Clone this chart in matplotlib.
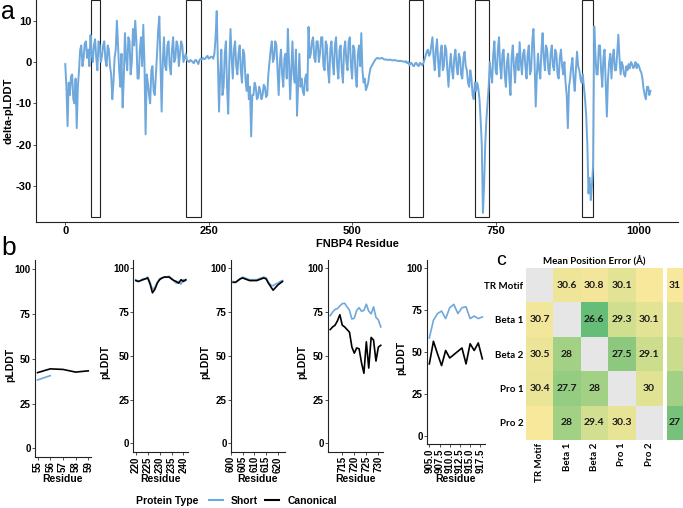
import numpy as np
import matplotlib
matplotlib.use("Agg")
import matplotlib.pyplot as plt
from matplotlib.patches import Rectangle
from matplotlib.lines import Line2D
from matplotlib.colors import LinearSegmentedColormap

plt.rcParams['font.family'] = ['Liberation Sans', 'DejaVu Sans']
plt.rcParams['font.weight'] = 'bold'
plt.rcParams['axes.unicode_minus'] = False

BLUE = '#6fa8dc'

# ---- panel a: delta-pLDDT along FNBP4 (read every 2 residues) ----
delta_res = np.arange(0, 1021, 2)
delta_plddt = [
    -0.5, -6, -15.5, -5, -8, -3.5, -3, -9, -10, -4, -16, -6, -2, 3, 4, -1, 1, 4.5, 5, 1,        # 0-38
    3, -1, 6.5, 2, 0, 4, 5.5, 1, -2, 5, 4, 0, 1.5, 4, 5, 0.5, -1, 4, 3, -1,                      # 40-78
    -3, -9, -5, 1, 3, 10, 4, -2, -6, 2, -11, -4, 7, 1, -2, 6, 5, -3, 0, 8,                       # 80-118
    4, 10, 5, -4, -4, 3, 6, -1, 9, 0, -17.5, -3, -5, -8, -10, -2, -1, -7, -8, -3,                # 120-158
    2, 8, 11, 0, -12, 0, 6, -1, -2, 4, 5, -1, -3, 3, 6, 0, 1, 5, 4, -1,                          # 160-198
    2, 5, 4, 0, 1, 2, 0.5, 0.2, 0, 0.5, 0.3, 0, -0.3, 0.4, 0.5, 0, -0.5, 0.5, 0.8, 0.6,          # 200-238
    1, 0.7, 0.8, 1.2, 1.5, 0.8, 1, 1.3, 1.2, 0.8, 2, 6, 12.3, 0, -12, -3, 3, -8, -6, 2,          # 240-278
    5, -6, -12.5, 0, 8, 1, -4, 3, 5, -1, -3, 2, 4, -2, -5, 3, 2, -4, -7, -3,                     # 280-318
    -9, -6, -18, -8, -8, -5, -6, -9, -8.5, -6, -7, -9, -8, -5.5, -6, -8.5, -8, -3, 0, 3,         # 320-358
    5, 0, 1, 5, 4, -2, -8, 0, 3, -3, -6, 1, 2, -4, 8, 0, -9, -2, 5, -3,                          # 360-398
    -5, 3, -13, -5, 2, -6, -4, -7, -8, -4, -3, -7, 8.5, 1, 2, 5, 6, 1, 0, 5,                     # 400-438
    5, 0, 2, 6, 6, -1, -2, 5, 4, -2, -5, 3, 5, 0, -3, 4, 6, -1, -4, 3,                           # 440-478
    4, -2, -5, 3, 5, 0, -2, 5, 6, -1, -4, 4, 3, -3, -6, 2, 4, -1, 7, -2,                         # 480-518
    -5, -4, -6.8, -6, -5, -3, -1.5, -1, -0.5, 0, 0.5, 0.8, 1, 0.9, 0.8, 0.9, 1, 0.8, 0.6, 0.6,   # 520-558
    0.6, 0.5, 0.5, 0.6, 0.5, 0.4, 0.4, 0.5, 0.4, 0.3, 0.3, 0.2, 0.3, 0.2, 0.2, 0.1, 0, 0.2, -0.3, 0,  # 560-598
    -0.8, -0.2, -0.3, -0.9, -1, -0.3, -0.2, -0.8, -1, -0.2, -0.4, -0.8, -0.3, 0.5, 1.5, 2.5, 3, 1.5, 2, 4,  # 600-638
    6, 1, -2, 3, 5.5, 0, -3.5, 2, 4, -2, -1, 4, 3, -2, -6, -1, 2, -2, -4, 1,                     # 640-678
    3, -1, -3, 2, 1, -3, -4, 1, 2.5, -1, -2, -5, -6, -2, -4, -8, -9, -5, -7, -5,                 # 680-718
    -6.5, -9, -14, -20, -36.5, -30, -20, -14, -10, -6, 0, -3, -5, 2, 5, -2, -3, 3, 6, -1,        # 720-758
    -4, 2, 3, -3, -6, 0, 2, -4, -8, 1, 4, -1, -5, 1, 2, -2, 4.8, 0, -3, 2,                       # 760-798
    3, -1, -4, 2, 4, -3, -2, 5, 8, 0, -10.8, -3, 2, -2, -4, 3, 7, 1, -2, 4,                      # 800-838
    3, -2, -3, 2, 4, -1, -2, 3, 2, -3, -4, 1, 3, -1, -3, 0, -5, -8, -16, -6,                     # 840-878
    -4, -1, 1, -4, -7, -2, 2.5, -1, -2, -4, -5, -3, -6, -9, -13, -20, -31.8, -28, -33.4, -30,    # 880-918
    -25, 8.6, 2, -3, -3, 4, 4, -2, -6, 1, 3, -5, -13.2, -4, 0, 2, -4, 1, 3, -2,                  # 920-958
    -2, 2, 6.6, 1, -3, 0, -1, -3, -3.5, -1, -2, -0.5, -1.5, 0, -0.5, -1.5, -1, 0, -1.5, -0.5,    # 960-998
    -1, -2, -2.5, -4, -6.5, -8, -9, -6, -6, -8, -7,                                              # 1000-1020
]
box_start = [44, 211, 599, 714, 901]
box_end = [61, 236, 623, 738, 919]
box_low, box_high = -37.5, 15.0

# ---- panel b: pLDDT in zoomed windows ----
b_res_short = [[55, 56], list(range(220, 242)), list(range(601, 623)),
               list(range(710, 732)), list(range(905, 919))]
b_res_canon = [[55, 56, 57, 58, 59], list(range(220, 242)), list(range(601, 623)),
               list(range(710, 732)), list(range(905, 919))]
b_short = [
    [38.2, 40.6],
    [93.5, 92.5, 93, 94, 94, 95, 92, 88, 89, 92, 94, 94.5, 95, 95, 95.5, 94, 93,
     91.5, 92.5, 91, 93.5, 93],
    [92.5, 92, 93, 94, 95, 94.5, 94, 93.5, 93.5, 93.5, 93.5, 94, 94.5, 95, 94.5,
     92, 90.5, 90, 91, 91.5, 92.5, 93],
    [73, 75, 76.5, 77, 78.5, 79.8, 80, 78, 76, 71, 71.5, 76, 77.5, 75.5, 76, 79.5,
     75.5, 74, 78, 72, 70.5, 66.5],
    [58.5, 69, 73, 74.5, 70, 76.5, 78.5, 73, 76.5, 77, 70, 71.5, 70, 71],
]
b_canon = [
    [42.3, 44.4, 44.1, 42.6, 43.3],
    [93, 92.5, 93, 93.5, 94, 94.5, 91, 86, 88, 91.5, 93.5, 94.5, 95, 95, 95, 94, 93,
     92.5, 91.5, 93.5, 92.5, 93.5],
    [92, 92, 93, 94, 94.5, 94, 93.5, 93, 93, 93, 93, 93.5, 94, 94.5, 94, 91.5, 89.5,
     87.5, 89, 90.5, 91.5, 92.5],
    [65, 66.5, 67.5, 70, 73.5, 67.5, 66.5, 65, 63.5, 55, 51.5, 54.5, 54, 46, 40, 58,
     43, 60.5, 59, 47, 55, 56],
    [43, 56.5, 49, 42, 51, 46.5, 48.5, 50.5, 52.5, 43, 55, 51, 55.5, 46],
]
b_xticks = [[55, 56, 57, 58, 59], [220, 225, 230, 235, 240], [600, 605, 610, 615, 620],
            [715, 720, 725, 730], [905, 907.5, 910, 912.5, 915, 917.5]]
b_xticklabels = [['55', '56', '57', '58', '59'], ['220', '225', '230', '235', '240'],
                 ['600', '605', '610', '615', '620'], ['715', '720', '725', '730'],
                 ['905.0', '907.5', '910.0', '912.5', '915.0', '917.5']]
b_yticks = [0, 25, 50, 75, 100]

# ---- panel c: mean position error heatmap ----
c_labels = ['TR Motif', 'Beta 1', 'Beta 2', 'Pro 1', 'Pro 2']
c_values = [
    [np.nan, 30.6, 30.8, 30.1, 31.0],
    [30.7, np.nan, 26.6, 29.3, 30.1],
    [30.5, 28.0, np.nan, 27.5, 29.1],
    [30.4, 27.7, 28.0, np.nan, 30.0],
    [31.0, 28.0, 29.4, 30.3, np.nan],
]
c_text = [
    ['', '30.6', '30.8', '30.1', ''],
    ['30.7', '', '26.6', '29.3', '30.1'],
    ['30.5', '28', '', '27.5', '29.1'],
    ['30.4', '27.7', '28', '', '30'],
    ['', '28', '29.4', '30.3', ''],
]
extra_values = [31.0, 29.9, 29.0, 28.0, 27.0]
extra_text = ['31', '', '', '', '27']

W, H = 683, 508
fig = plt.figure(figsize=(W / 100, H / 100), dpi=100)


def add_ax(l, t, r, b):
    return fig.add_axes([l / W, 1 - b / H, (r - l) / W, (b - t) / H])


def classic(ax, size):
    ax.spines['top'].set_visible(False)
    ax.spines['right'].set_visible(False)
    for s in ['left', 'bottom']:
        ax.spines[s].set_linewidth(0.8)
        ax.spines[s].set_color('#222222')
    ax.tick_params(length=2, width=0.6, color='#333333', labelsize=size, pad=1)
    for lab in ax.get_xticklabels() + ax.get_yticklabels():
        lab.set_fontweight('bold')


# panel a
ax = add_ax(36, 0, 678, 222)
ax.plot(delta_res, delta_plddt, color=BLUE, lw=1.4, solid_joinstyle='round')
for s, e in zip(box_start, box_end):
    ax.add_patch(Rectangle((s, box_low), e - s, box_high - box_low, fill=False,
                           ec='#222222', lw=0.8, clip_on=False))
ax.set_xlim(-51, 1068)
ax.set_ylim(-38.7, 15.0)
ax.set_xticks([0, 250, 500, 750, 1000])
ax.set_yticks([10, 0, -10, -20, -30])
classic(ax, 8)
ax.set_xlabel('FNBP4 Residue', fontsize=8, fontweight='bold')
ax.set_ylabel('delta-pLDDT', fontsize=8, fontweight='bold')
ax.xaxis.set_label_coords(0.5, -(244 - 222) / 222)
ax.xaxis.label.set_va('center')
ax.yaxis.set_label_coords(-(36 - 9) / 642, 0.5)
ax.yaxis.label.set_va('center')

# panel b
b_boxes = [(35, 260.4, 90.8, 457.3), (133.3, 259.6, 188.3, 452.0),
           (230.7, 259.6, 285.0, 452.0), (327.7, 259.6, 383.3, 452.0),
           (426.7, 259.9, 485.0, 444.4)]
b_xlims = [(54.8, 59.2), (218.95, 242.05), (599.95, 623.05), (708.95, 732.05),
           (904.35, 918.65)]
b_ylabel_x = [10, 105, 205, 302, 401]
for i, (l, t, r, b) in enumerate(b_boxes):
    axb = add_ax(l, t, r, b)
    axb.plot(b_res_short[i], b_short[i], color=BLUE, lw=1.2)
    axb.plot(b_res_canon[i], b_canon[i], color='black', lw=1.2)
    axb.set_xlim(*b_xlims[i])
    axb.set_ylim(-5, 105)
    axb.set_yticks(b_yticks)
    axb.set_xticks(b_xticks[i])
    axb.set_xticklabels(b_xticklabels[i], rotation=90)
    classic(axb, 7)
    axb.set_xlabel('Residue', fontsize=7.5, fontweight='bold')
    axb.set_ylabel('pLDDT', fontsize=7.5, fontweight='bold')
    axb.xaxis.set_label_coords(0.5, -(479 - b) / (b - t))
    axb.xaxis.label.set_va('center')
    axb.yaxis.set_label_coords(-(l - b_ylabel_x[i]) / (r - l), 0.47)
    axb.yaxis.label.set_va('center')

fig.text(136 / W, 1 - 501 / H, 'Protein Type', fontsize=7.5, va='center', ha='left',
         fontweight='bold')
handles = [Line2D([], [], color=BLUE, lw=1.5), Line2D([], [], color='black', lw=1.5)]
fig.legend(handles, ['Short', 'Canonical'], loc='center left',
           bbox_to_anchor=(209 / W, 1 - 501 / H), ncol=2, frameon=False,
           prop={'size': 7.5, 'weight': 'bold'}, handlelength=1.3,
           handletextpad=0.8, columnspacing=0.7, borderpad=0, borderaxespad=0)

# panel c
cmap = LinearSegmentedColormap.from_list('gy', ['#66bd77', '#c5dc8c', '#f8e89c'])
cmap.set_bad('#e6e6e6')
hfont = ['Lato', 'DejaVu Sans']
axc = add_ax(526, 268.3, 662.7, 440)
axc.imshow(np.ma.masked_invalid(np.array(c_values)), cmap=cmap, vmin=26.6, vmax=31,
           aspect='auto')
for i in range(len(c_labels)):
    for j in range(len(c_labels)):
        axc.text(j, i, c_text[i][j], ha='center', va='center', fontsize=7.5,
                 family=hfont, weight='bold', color='#1a1a1a')
axc.set_xticks(range(len(c_labels)))
axc.set_yticks(range(len(c_labels)))
axc.set_xticklabels(c_labels, rotation=90, family=hfont, fontsize=7, fontweight='bold')
axc.set_yticklabels(c_labels, family=hfont, fontsize=7, fontweight='bold')
axc.tick_params(length=0, pad=2)
for s in axc.spines.values():
    s.set_visible(False)
axc.set_title('Mean Position Error (\u00c5)', fontsize=7, family=hfont,
              weight='bold', pad=2.5)

axe = add_ax(667, 268.3, 683, 440)
axe.imshow(np.array(extra_values).reshape(-1, 1), cmap=cmap, vmin=26.6, vmax=31,
           aspect='auto')
for i, t in enumerate(extra_text):
    axe.text(0, i, t, ha='center', va='center', fontsize=7.5, family=hfont,
             weight='bold', color='#1a1a1a')
axe.axis('off')

# panel letters
fig.text(1 / W, 1 - 19 / H, 'a', fontsize=18, weight='normal', va='baseline')
fig.text(1 / W, 1 - 255 / H, 'b', fontsize=19, weight='normal', va='baseline')
fig.text(496 / W, 1 - 265 / H, 'c', fontsize=14, weight='normal', va='baseline')

fig.savefig('out.png', dpi=100)
